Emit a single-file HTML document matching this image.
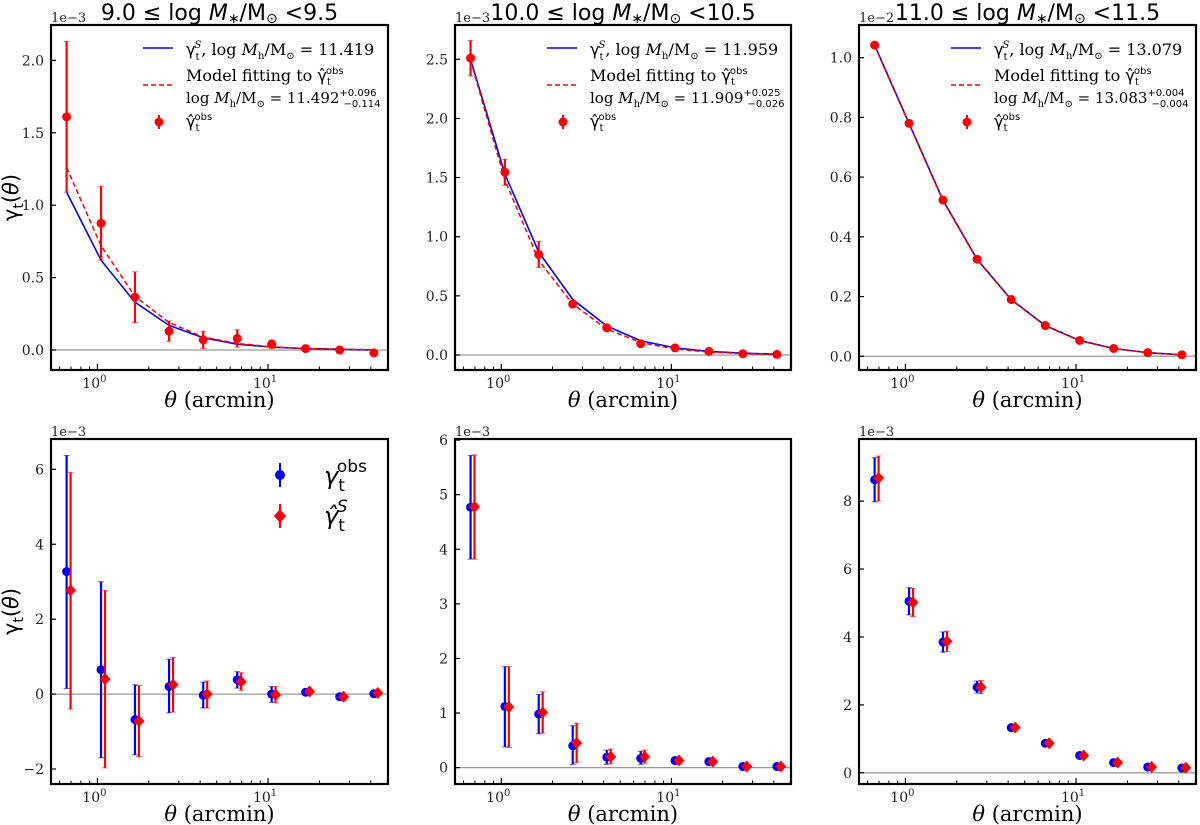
<!DOCTYPE html>
<html><head><meta charset="utf-8"><style>
html,body{margin:0;padding:0;background:#fff;}
svg{display:block;font-family:"DejaVu Serif","Liberation Serif",serif;}
</style></head><body>
<svg id="fig" width="1200" height="825" viewBox="0 0 1200 825" xmlns="http://www.w3.org/2000/svg"></svg>
<script>
// ---- data ----
const theta=[0.66,1.05,1.66,2.63,4.17,6.6,10.5,16.6,26.3,41.7];
const p1Obs=[1.61,0.875,0.365,0.13,0.07,0.08,0.04,0.01,0.0,-0.02];
const p1Err=[0.52,0.255,0.175,0.07,0.06,0.06,0.03,0.02,0.01,0.01];
const p1S=[1.09,0.62,0.33,0.17,0.085,0.04,0.02,0.01,0.005,0.0];
const p1Fit=[1.26,0.72,0.37,0.19,0.09,0.045,0.022,0.01,0.005,0.002];
const p2Obs=[2.51,1.545,0.85,0.43,0.23,0.095,0.06,0.03,0.01,0.005];
const p2Err=[0.15,0.11,0.11,0.03,0.02,0.01,0.01,0.01,0.005,0.005];
const p2S=[2.50,1.53,0.87,0.47,0.245,0.12,0.06,0.03,0.015,0.007];
const p2Fit=[2.49,1.48,0.80,0.43,0.22,0.105,0.05,0.025,0.012,0.005];
const p3Obs=[1.042,0.78,0.523,0.325,0.19,0.103,0.053,0.026,0.012,0.005];
const p3Err=[0.005,0.005,0.005,0.004,0.003,0.003,0.002,0.002,0.002,0.002];
const p3S=[1.042,0.78,0.523,0.325,0.19,0.103,0.053,0.026,0.012,0.005];
const p3Fit=[1.040,0.778,0.521,0.323,0.189,0.102,0.052,0.026,0.012,0.005];
const p4Blue=[3.27,0.65,-0.68,0.2,-0.03,0.38,0.0,0.05,-0.07,0.01];
const p4BlueLo=[0.15,-1.7,-1.62,-0.5,-0.37,0.16,-0.22,0.0,-0.1,-0.02];
const p4BlueHi=[6.37,3.0,0.25,0.93,0.32,0.6,0.2,0.1,-0.04,0.04];
const p4Red=[2.77,0.4,-0.72,0.25,0.0,0.33,-0.02,0.07,-0.07,0.03];
const p4RedLo=[-0.4,-1.97,-1.67,-0.48,-0.37,0.1,-0.23,0.02,-0.1,0.0];
const p4RedHi=[5.92,2.77,0.23,0.98,0.35,0.57,0.2,0.12,-0.04,0.06];
const p5Blue=[4.77,1.12,0.98,0.4,0.19,0.17,0.13,0.11,0.02,0.02];
const p5BlueLo=[3.82,0.38,0.62,0.06,0.06,0.06,0.08,0.07,0.0,0.0];
const p5BlueHi=[5.72,1.85,1.34,0.77,0.32,0.3,0.19,0.15,0.04,0.04];
const p5Red=[4.78,1.11,1.01,0.45,0.2,0.2,0.13,0.11,0.02,0.02];
const p5RedLo=[3.82,0.37,0.63,0.09,0.07,0.08,0.08,0.07,0.0,0.0];
const p5RedHi=[5.73,1.85,1.39,0.81,0.34,0.32,0.19,0.15,0.04,0.04];
const p6Blue=[8.63,5.05,3.85,2.52,1.33,0.87,0.51,0.3,0.17,0.14];
const p6BlueLo=[7.98,4.65,3.55,2.35,1.27,0.82,0.47,0.27,0.14,0.11];
const p6BlueHi=[9.28,5.45,4.15,2.7,1.39,0.92,0.55,0.33,0.2,0.17];
const p6Red=[8.68,5.02,3.87,2.52,1.33,0.87,0.51,0.3,0.17,0.15];
const p6RedLo=[8.0,4.6,3.57,2.33,1.27,0.82,0.47,0.27,0.14,0.12];
const p6RedHi=[9.33,5.43,4.17,2.72,1.39,0.92,0.55,0.33,0.2,0.18];
const yTicks1=[0,0.5,1.0,1.5,2.0];
const yTicks2=[0,0.5,1.0,1.5,2.0,2.5];
const yTicks3=[0,0.2,0.4,0.6,0.8,1.0];
const yTicks4=[-2,0,2,4,6];
const yTicks5=[0,1,2,3,4,5,6];
const yTicks6=[0,2,4,6,8];

const NS="http://www.w3.org/2000/svg";
const svg=document.getElementById('fig');
function mk(tag,attrs,parent){const e=document.createElementNS(NS,tag);for(const k in attrs)e.setAttribute(k,attrs[k]);(parent||svg).appendChild(e);return e;}

function panel(o){
  const g=mk('g',{});
  
  
  const L=o.x0,R=o.x1,T=o.y0,B=o.y1;
  const lx0=-0.272,lx1=1.703;
  const sx=v=>L+(Math.log10(v)-lx0)/(lx1-lx0)*(R-L);
  const sy=v=>B-(v-o.ymin)/(o.ymax-o.ymin)*(B-T);
  const zl=mk('line',{x1:L,x2:R,y1:sy(0),y2:sy(0),stroke:'#999','stroke-width':1.3},g);
  
  
  o.yticks.forEach(t=>{
    const y=sy(t);
    mk('line',{x1:L,x2:L+5,y1:y,y2:y,stroke:'#000','stroke-width':1.2},g);
    const tx=mk('text',{x:L-7,y:y+5,'text-anchor':'end','font-size':14,fill:'#222'},g);
    tx.textContent=o.fmt(t);
    
    
  });
  [1,10].forEach((t,i)=>{
    const x=sx(t);
    mk('line',{x1:x,x2:x,y1:B,y2:B-6,stroke:'#000','stroke-width':1.2},g);
    const tx=mk('text',{x:x-3,y:B+18,'text-anchor':'middle','font-size':14,fill:'#222'},g);
    tx.innerHTML='10<tspan dy="-6" font-size="10">'+i+'</tspan>';
    
    
  });
  [0.6,0.7,0.8,0.9,2,3,4,5,6,7,8,9,20,30,40,50].forEach(t=>{
    const x=sx(t);
    mk('line',{x1:x,x2:x,y1:B,y2:B-3.5,stroke:'#000','stroke-width':1},g);
  });
  if(o.lineS){
    const pb=mk('polyline',{points:theta.map((t,i)=>sx(t)+','+sy(o.lineS[i])).join(' '),fill:'none',stroke:'#0000ff','stroke-width':1.6},g);
    
    
    const pr=mk('polyline',{points:theta.map((t,i)=>sx(t)+','+sy(o.lineFit[i])).join(' '),fill:'none',stroke:'#ff0000','stroke-width':1.5,'stroke-dasharray':'5,3'},g);
    
    
  }
  function errPts(vals,lo,hi,color,fac,shape,nm){
    theta.forEach((t,i)=>{
      const x=sx(t*fac);
      const eg=mk('g',{},g);
      
      
      const y1=sy(lo[i]),y2=sy(hi[i]);
      mk('line',{x1:x,x2:x,y1:y1,y2:y2,stroke:color,'stroke-width':2.2},eg);
      mk('line',{x1:x-3,x2:x+3,y1:y1,y2:y1,stroke:color,'stroke-width':1,opacity:0.6},eg);
      mk('line',{x1:x-3,x2:x+3,y1:y2,y2:y2,stroke:color,'stroke-width':1,opacity:0.6},eg);
      const y=sy(vals[i]);
      if(shape==='c') mk('circle',{cx:x,cy:y,r:4.5,fill:color},eg);
      else mk('polygon',{points:(x)+','+(y-6)+' '+(x+5.5)+','+y+' '+x+','+(y+6)+' '+(x-5.5)+','+y,fill:color},eg);
    });
  }
  if(o.obs){
    const lo=o.obs.map((v,i)=>v-o.err[i]),hi=o.obs.map((v,i)=>v+o.err[i]);
    errPts(o.obs,lo,hi,'#ff0000',1,'c','obs-point');
  }
  if(o.blue){
    errPts(o.blue,o.blueLo,o.blueHi,'#0000ff',1,'c','gamma-obs-point');
    errPts(o.red,o.redLo,o.redHi,'#ff0000',1.055,'d','gamma-s-point');
  }
  const fr=mk('rect',{x:L,y:T,width:R-L,height:B-T,fill:'none',stroke:'#000','stroke-width':2.2},g);
  
  
  const ex=mk('text',{x:L,y:T-3,'font-size':13,fill:'#222'},g);
  ex.textContent=o.exp;
  
  
  const xl=mk('text',{x:(L+R)/2,y:B+37,'text-anchor':'middle','font-size':21,fill:'#000'},g);
  xl.innerHTML='<tspan font-style="italic">θ</tspan> (arcmin)';
  
  
  if(o.ylabel){
    const yl=mk('text',{x:0,y:0,'text-anchor':'middle','font-size':21,fill:'#000',transform:'translate(18,'+((T+B)/2)+') rotate(-90)','font-family':'DejaVu Sans, sans-serif'},g);
    yl.innerHTML='γ<tspan dy="5" font-size="14">t</tspan><tspan dy="-5">(</tspan><tspan font-style="italic">θ</tspan>)';
    
    
  }
  if(o.title){
    const tt=mk('text',{x:(L+R)/2,y:T-5,'text-anchor':'middle','font-size':22,fill:'#000','font-family':'DejaVu Sans, sans-serif'},g);
    tt.innerHTML=o.title;
    
    
  }
  if(o.legTop){
    const lg=mk('g',{transform:'translate('+L+','+T+')'},g);
    
    
    mk('line',{x1:92,x2:122,y1:23,y2:23,stroke:'#0000ff','stroke-width':1.6},lg);
    mk('line',{x1:92,x2:122,y1:60,y2:60,stroke:'#ff0000','stroke-width':1.5,'stroke-dasharray':'5,3'},lg);
    mk('line',{x1:108,x2:108,y1:90,y2:104,stroke:'#ff0000','stroke-width':2},lg);
    mk('circle',{cx:108,cy:97,r:4.5,fill:'#ff0000'},lg);
    const fs=16;
    const t1=mk('text',{x:135,y:30,'font-size':fs},lg);
    t1.innerHTML='<tspan font-family="DejaVu Sans">γ</tspan><tspan dy="5" font-size="10">t</tspan><tspan dx="-5" dy="-12" font-size="10" font-style="italic">S</tspan><tspan dy="7">, log </tspan><tspan font-style="italic">M</tspan><tspan dy="4" font-size="10">h</tspan><tspan dy="-4">/M</tspan><tspan dy="4" font-size="10">⊙</tspan><tspan dy="-4"> = '+o.legTop[0]+'</tspan>';
    const t2=mk('text',{x:135,y:56,'font-size':fs},lg);
    t2.innerHTML='Model fitting to <tspan font-family="DejaVu Sans">γ̂</tspan><tspan dy="4" font-size="10">t</tspan><tspan dx="-5" dy="-11" font-size="10" font-family="DejaVu Sans">obs</tspan>';
    const t3=mk('text',{x:135,y:78,'font-size':15},lg);
    t3.innerHTML='log <tspan font-style="italic">M</tspan><tspan dy="4" font-size="10">h</tspan><tspan dy="-4">/M</tspan><tspan dy="4" font-size="10">⊙</tspan><tspan dy="-4"> = '+o.legTop[1]+'</tspan><tspan dy="-7" font-size="10" font-family="DejaVu Sans">'+o.legTop[2]+'</tspan><tspan dx="-33" dy="11" font-size="10" font-family="DejaVu Sans">'+o.legTop[3]+'</tspan>';
    const t4=mk('text',{x:135,y:102,'font-size':fs},lg);
    t4.innerHTML='<tspan font-family="DejaVu Sans">γ̂</tspan><tspan dy="4" font-size="10">t</tspan><tspan dx="-5" dy="-11" font-size="10" font-family="DejaVu Sans">obs</tspan>';
  }
  if(o.legBottom){
    const lg=mk('g',{transform:'translate('+L+','+T+')'},g);
    
    
    mk('line',{x1:229,x2:229,y1:24,y2:48,stroke:'#0000ff','stroke-width':2},lg);
    mk('circle',{cx:229,cy:36,r:5,fill:'#0000ff'},lg);
    mk('line',{x1:229,x2:229,y1:65,y2:89,stroke:'#ff0000','stroke-width':2},lg);
    mk('polygon',{points:'229,70 235,77 229,84 223,77',fill:'#ff0000'},lg);
    const a=mk('text',{x:273,y:45,'font-size':24,'font-family':'DejaVu Sans, sans-serif'},lg);
    a.innerHTML='<tspan font-style="italic">γ</tspan><tspan dy="7" font-size="17">t</tspan><tspan dx="-8" dy="-19" font-size="17">obs</tspan>';
    const b=mk('text',{x:273,y:85,'font-size':24,'font-family':'DejaVu Sans, sans-serif'},lg);
    b.innerHTML='<tspan font-style="italic">γ̂</tspan><tspan dy="7" font-size="17">t</tspan><tspan dx="-8" dy="-19" font-size="17" font-style="italic">S</tspan>';
  }
}
const f1=v=>v.toFixed(1), f0=v=>(v<0?'−':'')+Math.abs(v).toFixed(0);
const ttl=(a,b)=>a+' ≤  log <tspan font-style="italic">M</tspan><tspan font-size="14" dy="3">∗</tspan><tspan dy="-3">/M</tspan><tspan font-size="14" dy="3">⊙</tspan><tspan dy="-3"> &lt;'+b+'</tspan>';
panel({name:'panel-top-left',x0:51,x1:388,y0:25,y1:370,ymin:-0.138,ymax:2.244,yticks:yTicks1,fmt:f1,exp:'1e−3',ylabel:true,title:ttl('9.0','9.5'),obs:p1Obs,err:p1Err,lineS:p1S,lineFit:p1Fit,legTop:['11.419','11.492','+0.096','−0.114']});
panel({name:'panel-top-middle',x0:455,x1:791,y0:25,y1:370,ymin:-0.127,ymax:2.79,yticks:yTicks2,fmt:f1,exp:'1e−3',title:ttl('10.0','10.5'),obs:p2Obs,err:p2Err,lineS:p2S,lineFit:p2Fit,legTop:['11.959','11.909','+0.025','−0.026']});
panel({name:'panel-top-right',x0:859,x1:1196,y0:25,y1:370,ymin:-0.046,ymax:1.1095,yticks:yTicks3,fmt:f1,exp:'1e−2',title:ttl('11.0','11.5'),obs:p3Obs,err:p3Err,lineS:p3S,lineFit:p3Fit,legTop:['13.079','13.083','+0.004','−0.004']});
panel({name:'panel-bottom-left',x0:51,x1:388,y0:439,y1:784,ymin:-2.40,ymax:6.81,yticks:yTicks4,fmt:f0,exp:'1e−3',ylabel:true,blue:p4Blue,blueLo:p4BlueLo,blueHi:p4BlueHi,red:p4Red,redLo:p4RedLo,redHi:p4RedHi,legBottom:true});
panel({name:'panel-bottom-middle',x0:455,x1:791,y0:439,y1:784,ymin:-0.30,ymax:6.02,yticks:yTicks5,fmt:f0,exp:'1e−3',blue:p5Blue,blueLo:p5BlueLo,blueHi:p5BlueHi,red:p5Red,redLo:p5RedLo,redHi:p5RedHi});
panel({name:'panel-bottom-right',x0:859,x1:1196,y0:439,y1:784,ymin:-0.33,ymax:9.83,yticks:yTicks6,fmt:f0,exp:'1e−3',blue:p6Blue,blueLo:p6BlueLo,blueHi:p6BlueHi,red:p6Red,redLo:p6RedLo,redHi:p6RedHi});
</script>
</body></html>
